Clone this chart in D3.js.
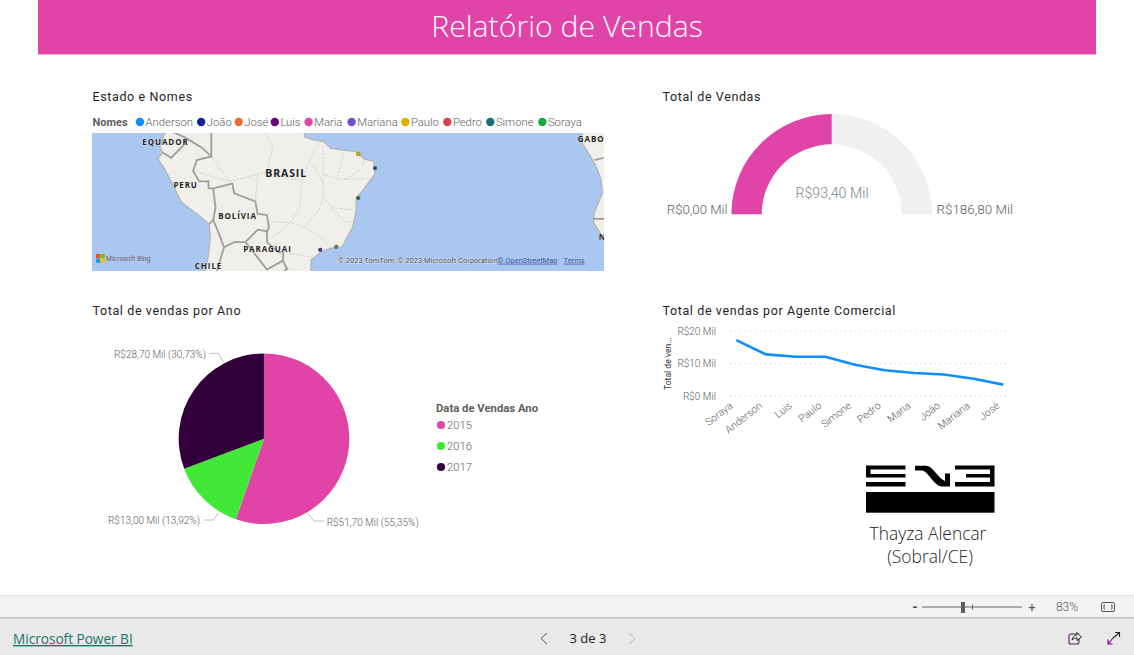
<!DOCTYPE html>
<html><head><meta charset="utf-8">
<script src="https://d3js.org/d3.v7.min.js"></script>
<style>
html,body{margin:0;padding:0;background:#fff;overflow:hidden}
svg{display:block}
text{font-family:"Roboto","Noto Sans",sans-serif}
.title{font-size:12.5px;fill:#252423;letter-spacing:.62px;font-family:"Roboto"}
.lab{fill:#605e5c}
</style></head><body>
<svg id="c" width="1134" height="655"></svg>
<script>
// ---------- data ----------
const reportTitle = "Relatório de Vendas";
const mapNames = ["Anderson","João","José","Luis","Maria","Mariana","Paulo","Pedro","Simone","Soraya"];
const mapColors = ["#118DFF","#12239E","#E66C37","#6B007B","#E044A7","#744EC2","#D9B300","#D64550","#197278","#1AAB40"];
const cityNames = ["Fortaleza","Natal","Salvador","Rio de Janeiro","São Paulo"];
const cityLons = [-38.5,-34.9,-38.5,-43.2,-46.6];
const cityLats = [-3.7,-6.7,-13,-22.9,-23.5];
const cityOuter = ["#D9B300","#197278","#1AAB40","#1AAB40","#12239E"];
const cityInner = ["#D9B300","#6B007B","#6B007B","#D64550","#744EC2"];
const southAmerica = [[-82,8],[-78.5,2],[-80,0.5],[-80.9,-2.2],[-80.3,-3.4],[-81.3,-4.7],[-79.9,-6.9],[-78.2,-10],[-76.3,-13.9],[-72,-17],[-70.4,-18.4],[-70.1,-21],[-70.6,-25],[-71.4,-29],[-71.6,-33],[-71,-36],[-55,-36],[-52,-32.2],[-50,-29.5],[-48.6,-27.5],[-48.6,-25.5],[-46.5,-24],[-44.5,-23.2],[-41.9,-22.9],[-40.9,-21],[-39.7,-19],[-39,-16],[-38.9,-13],[-37.2,-11],[-34.9,-8],[-35.2,-5.2],[-37.2,-4.8],[-39,-3.2],[-41.5,-2.9],[-44.3,-2.5],[-46,-1],[-48.2,-0.7],[-50,0],[-50,1.8],[-52,5],[-60,9],[-82,9]];
const africa = [[8.7,5],[9.5,1],[9,-0.7],[11,-4],[12.2,-6],[13.4,-9],[13.7,-12],[12,-16],[11.8,-18],[14.5,-22],[15,-27],[30,-27],[30,5]];
const countryBorders = [
 [[-80.3,-3.4],[-78.5,-4.5],[-75.5,-1.5],[-75.5,-0.2],[-78.5,1.2]],
 [[-75.5,-0.2],[-72,-2.3],[-69.9,-4.2],[-69.9,1.5]],
 [[-69.9,-4.2],[-73,-5],[-73.8,-7.3],[-72.5,-9.5],[-70.5,-9.5],[-70.5,-11],[-69.5,-11],[-65.4,-10],[-65,-12],[-60.5,-13.7],[-60,-16.3],[-58,-16.5],[-57.6,-19],[-58,-20],[-58,-22],[-55.5,-24],[-54.5,-24],[-54.6,-25.6],[-53.7,-27.2],[-57.6,-30]],
 [[-69.5,-11],[-69,-15],[-69.5,-17.5],[-70.4,-18.4]],
 [[-69.5,-17.5],[-68.4,-20],[-67.2,-23],[-68.5,-27],[-70,-31]],
 [[-67.2,-23],[-65,-22],[-62.6,-22],[-60,-19.5],[-58,-19.8]],
 [[-62.6,-22],[-58,-27.3],[-54.6,-25.6]],
 [[12,-5],[14,-4.5]],[[11.8,-17.3],[15,-17.3]]
];
const stateBorders = [
 [[-69.9,-4.2],[-66,-9.5]],[[-73.8,-7.3],[-66,-9.5],[-60,-8],[-58,-7.5],[-56.8,-2.2],[-58.5,1]],
 [[-60,-8],[-60.5,-13.7]],[[-58,-7.5],[-50.5,-9.5],[-49,-5.3],[-47,-1]],
 [[-50.5,-9.5],[-51,-15],[-53,-18],[-58,-18]],[[-46,-2],[-46,-8],[-46,-13],[-47,-15.5],[-50,-19],[-53,-18]],
 [[-49,-5.3],[-47.5,-7],[-46,-10]],[[-46,-8],[-43,-9],[-41.5,-3]],[[-41,-9],[-38,-7],[-37,-4.8]],[[-43,-9],[-38,-9],[-36,-9]],
 [[-46,-13],[-44,-15],[-39.5,-15.5]],[[-50,-19],[-47,-20.5],[-44.5,-23]],[[-44.5,-15],[-41,-18],[-40,-18]],[[-54,-24],[-48.2,-25]],[[-53.7,-27],[-49,-28.5]],[[-58,-22],[-53,-18]]
];
const mapLabelNames = ["EQUADOR","PERU","BRASIL","BOLÍVIA","PARAGUAI","CHILE","GABON","NAMÍBIA"];
const mapLabelLons = [-79.7,-75.4,-53.9,-64.3,-57.9,-70.5,12.1,17.4];
const mapLabelLats = [-1.2,-10.2,-8.0,-16.8,-23.4,-26.6,-0.5,-20.9];
const gaugeMin = 0, gaugeMax = 186.8, gaugeValue = 93.4;
const gaugeTexts = ["R$0,00 Mil","R$93,40 Mil","R$186,80 Mil"];
const pieYears = ["2015","2016","2017"];
const pieValues = [51.7,13.0,28.7];
const pieLabels = ["R$51,70 Mil (55,35%)","R$13,00 Mil (13,92%)","R$28,70 Mil (30,73%)"];
const pieColors = ["#E044A7","#41E835","#33003B"];
const agents = ["Soraya","Anderson","Luis","Paulo","Simone","Pedro","Maria","João","Mariana","José"];
const agentSales = [17.2,12.8,12.1,12.1,9.6,7.9,7.1,6.6,5.3,3.5];
const agentTicks = [0,10,20];
const agentTickLabels = ["R$0 Mil","R$10 Mil","R$20 Mil"];

// ---------- drawing ----------
const svg = d3.select("#c");
const pink = "#E044A7";
// header
svg.append("rect").attr("x",38).attr("y",0).attr("width",1058).attr("height",54).attr("fill",pink);
svg.append("rect").attr("x",38).attr("y",54).attr("width",1058).attr("height",1).attr("fill","#f0b4da");
svg.append("text").attr("x",567).attr("y",37).attr("text-anchor","middle").attr("fill","#fff")
 .style("font-family",'"Open Sans"').style("font-weight",300).style("font-size","30.2px").text(reportTitle);
function title(x,y,t){svg.append("text").attr("class","title").attr("x",x).attr("y",y).text(t);}
title(92.5,101,"Estado e Nomes");
title(662.5,101,"Total de Vendas");
title(92.5,315,"Total de vendas por Ano");
title(662.5,315,"Total de vendas por Agente Comercial");

// map legend
svg.append("text").attr("x",92.5).attr("y",126).attr("fill","#605e5c").style("font-size","11px").style("font-weight",700).text("Nomes");
const legendDotX = [139.9,201.2,238.7,274.8,308.6,351.6,405.3,447.3,490.3,542.3];
mapNames.forEach((n,i)=>{
  svg.append("circle").attr("cx",legendDotX[i]).attr("cy",122).attr("r",4.2).attr("fill",mapColors[i]);
  svg.append("text").attr("class","lab").attr("x",legendDotX[i]+5.6).attr("y",126).style("font-size","11.3px").style("font-weight",300).text(n);
});

// map
svg.append("clipPath").attr("id","mc").append("rect").attr("x",92).attr("y",133).attr("width",512).attr("height",138);
const mapG = svg.append("g").attr("clip-path","url(#mc)");
mapG.append("rect").attr("x",92).attr("y",133).attr("width",512).attr("height",138).attr("fill","#A9C7F1");
const proj = d3.geoMercator().scale(268).translate([0,0]);
const p0 = proj([-38.5,-3.7]);
proj.translate([358.2-p0[0],154-p0[1]]);
const pxLine = d3.line().x(d=>proj(d)[0]).y(d=>proj(d)[1]);
[southAmerica,africa].forEach(poly=>{
  mapG.append("path").attr("d",pxLine(poly)+"Z").attr("fill","#F0EFEB").attr("stroke","#b4b3ad").attr("stroke-width",1.2);
});
stateBorders.forEach(b=>mapG.append("path").attr("d",pxLine(b)).attr("fill","none").attr("stroke","#c9c6bd").attr("stroke-width",.8).attr("stroke-dasharray","2,1.5"));
countryBorders.forEach(b=>{
  mapG.append("path").attr("d",pxLine(b)).attr("fill","none").attr("stroke","#a09e98").attr("stroke-width",1.8);
});
mapLabelNames.forEach((l,i)=>{
  const p = proj([mapLabelLons[i],mapLabelLats[i]]);
  mapG.append("text").attr("x",p[0]).attr("y",p[1]+3).attr("text-anchor","middle").attr("fill","#222")
   .attr("stroke","#fff").attr("stroke-width",.5).attr("paint-order","stroke")
   .style("font-size",l==="BRASIL"?"10.5px":"8px").style("font-weight",700).style("letter-spacing","0.9px").style("font-family",'"Open Sans"').text(l);
});
cityNames.forEach((c,i)=>{
  const p = proj([cityLons[i],cityLats[i]]);
  mapG.append("circle").attr("cx",p[0]).attr("cy",p[1]).attr("r",1.9).attr("fill",cityOuter[i]).attr("stroke","#333").attr("stroke-width",.3);
  mapG.append("circle").attr("cx",p[0]).attr("cy",p[1]).attr("r",.9).attr("fill",cityInner[i]);
});
// Bing logo & attribution
const msCols=["#F25022","#7FBA00","#00A4EF","#FFB900"];
msCols.forEach((c,i)=>mapG.append("rect").attr("x",96+(i%2)*4.6).attr("y",254+Math.floor(i/2)*4.6).attr("width",4.2).attr("height",4.2).attr("fill",c));
mapG.append("text").attr("x",106).attr("y",261).attr("fill","#666").style("font-size","6.8px").text("Microsoft Bing");
mapG.append("text").attr("x",338).attr("y",262.7).attr("fill","#444").attr("stroke","#fff").attr("stroke-width",.5).attr("paint-order","stroke").style("font-size","7.5px").text("© 2023 TomTom, © 2023 Microsoft Corporation, ");
mapG.append("text").attr("x",497.6).attr("y",262.7).attr("fill","#3a5a9a").attr("text-decoration","underline").style("font-size","7.5px").text("© OpenStreetMap");
mapG.append("text").attr("x",563.6).attr("y",262.7).attr("fill","#3a5a9a").attr("text-decoration","underline").style("font-size","7.5px").text("Terms");

// gauge
const gx = 831.7, gy = 214.3;
const gAngle = d3.scaleLinear().domain([gaugeMin,gaugeMax]).range([-Math.PI/2,Math.PI/2]);
const gArc = d3.arc().innerRadius(70).outerRadius(100.3);
svg.append("path").attr("transform",`translate(${gx},${gy})`).attr("fill","#F1F0EF").attr("d",gArc({startAngle:gAngle(gaugeMin),endAngle:gAngle(gaugeMax)}));
svg.append("path").attr("transform",`translate(${gx},${gy})`).attr("fill",pink).attr("d",gArc({startAngle:gAngle(gaugeMin),endAngle:gAngle(gaugeValue)}));
svg.append("text").attr("class","lab").attr("x",727.5).attr("y",214).attr("text-anchor","end").style("font-size","13.2px").style("font-weight",300).text(gaugeTexts[0]);
svg.append("text").attr("x",832).attr("y",198).attr("text-anchor","middle").attr("fill","#7b8790").style("font-size","14.2px").style("font-weight",300).text(gaugeTexts[1]);
svg.append("text").attr("class","lab").attr("x",936.5).attr("y",214).style("font-size","13.4px").style("font-weight",300).text(gaugeTexts[2]);

// pie
const px=264, py=438.7, pr=85.3;
const pie = d3.pie().sort(null).value(d=>d);
const pArc = d3.arc().innerRadius(0).outerRadius(pr);
const slices = pie(pieValues);
const pieG = svg.append("g").attr("transform",`translate(${px},${py})`);
pieG.selectAll("path").data(slices).join("path").attr("d",pArc).attr("fill",(d,i)=>pieColors[i]);
const lblX = [326.7,200,206];
const lblY = [526,524,358];
const anchor = ["start","end","end"];
const leaders = [[[308.3,514],[314,521],[324,521]],[[218.3,513.3],[213.3,520],[203.3,520]],[[223.3,361.7],[218.3,353.3],[209.3,353.3]]];
slices.forEach((s,i)=>{
  svg.append("path").attr("fill","none").attr("stroke","#bdbdbd").attr("stroke-width",1).attr("d",d3.line()(leaders[i]));
  svg.append("text").attr("class","lab").attr("x",lblX[i]).attr("y",lblY[i]).attr("text-anchor",anchor[i]).style("font-size","10px").style("font-weight",300).text(pieLabels[i]);
});
svg.append("text").attr("x",436).attr("y",412).attr("fill","#605e5c").style("font-size","11.3px").style("font-weight",700).text("Data de Vendas Ano");
pieYears.forEach((y,i)=>{
  const cy = 425+i*21;
  svg.append("circle").attr("cx",441).attr("cy",cy).attr("r",4.1).attr("fill",pieColors[i]);
  svg.append("text").attr("class","lab").attr("x",447).attr("y",cy+4).style("font-size","11.3px").style("font-weight",300).text(y);
});

// line chart
const xS = d3.scalePoint().domain(agents).range([736.3,1003.3]);
const yS = d3.scaleLinear().domain([0,20]).range([396,331]);
const yAxis = d3.axisLeft(yS).tickValues(agentTicks).tickSize(0).tickPadding(9).tickFormat((d,i)=>agentTickLabels[i]);
const yg = svg.append("g").attr("transform","translate(725,0)").call(yAxis);
yg.select(".domain").remove();
yg.selectAll("text").attr("fill","#605e5c").style("font-size","10px").style("font-weight",300);
agentTicks.forEach(t=>svg.append("line").attr("x1",725).attr("x2",1014).attr("y1",yS(t)).attr("y2",yS(t)).attr("stroke","#cfcfcf").attr("stroke-width",1).attr("stroke-dasharray","1,4"));
svg.append("text").attr("transform","translate(670.5,390) rotate(-90)").attr("fill","#333").style("font-size","8.6px").text("Total de ven...");
const xAxis = d3.axisBottom(xS).tickSize(0);
const xg = svg.append("g").attr("transform","translate(0,396)").call(xAxis);
xg.select(".domain").remove();
xg.selectAll("text").attr("fill","#605e5c").style("font-size","10.4px").style("font-weight",300)
  .attr("text-anchor","end").attr("dy",0).attr("x",0).attr("y",0).attr("transform","translate(-3.5,11) rotate(-38)");
svg.append("path").attr("fill","none").attr("stroke","#118DFF").attr("stroke-width",2.6).attr("stroke-linejoin","round")
 .attr("d",d3.line().x((d,i)=>xS(agents[i])).y(d=>yS(d))(agentSales));

// logo
const logo = svg.append("g").attr("fill","#000");
logo.append("path").attr("d","M866 465.5H905.5V469.5H870.5V474H905.5V477.5H866ZM866 482H905.5V486.5H866Z");
logo.append("path").attr("d","M915 465.7H926C933 466 938 478 945 481V473.5H950V486.5H942C934 486 928 471 922 470.5H915Z");
logo.append("path").attr("d","M955 465.5H994.5V486.5H955V482H990V477.5H966V474H990V469.5H955Z");
logo.append("rect").attr("x",866).attr("y",492).attr("width",128.5).attr("height",20.7);
svg.append("text").attr("x",928).attr("y",540).attr("text-anchor","middle").attr("fill","#252423").style("font-size","17.4px").style("font-family",'"Open Sans"').style("font-weight",300).text("Thayza Alencar");
svg.append("text").attr("x",930).attr("y",563).attr("text-anchor","middle").attr("fill","#252423").style("font-size","17.4px").style("font-family",'"Open Sans"').style("font-weight",300).text("(Sobral/CE)");

// footer bars
svg.append("rect").attr("x",0).attr("y",595).attr("width",1134).attr("height",23).attr("fill","#F3F3F3");
svg.append("rect").attr("x",0).attr("y",595).attr("width",1134).attr("height",1).attr("fill","#E1E1E1");
svg.append("rect").attr("x",0).attr("y",618).attr("width",1134).attr("height",37).attr("fill","#E9E9E9");
svg.append("rect").attr("x",0).attr("y",617).attr("width",1134).attr("height",1.5).attr("fill","#C8C8C8");
svg.append("text").attr("x",13).attr("y",644).attr("fill","#117865").attr("text-decoration","underline").style("font-size","13.6px").style("font-family",'"Open Sans"').text("Microsoft Power BI");
const chev=(x,c,dir)=>svg.append("path").attr("fill","none").attr("stroke",c).attr("stroke-width",1).attr("d",d3.line()([[x+dir*3,633],[x-dir*3,638.5],[x+dir*3,644]]));
chev(544,"#555",1); chev(632,"#bbb",-1);
svg.append("text").attr("x",588).attr("y",643).attr("text-anchor","middle").attr("fill","#222").style("font-size","13px").style("font-family",'"Open Sans"').style("font-weight",500).text("3 de 3");
// zoom control
svg.append("text").attr("x",915).attr("y",612).attr("text-anchor","middle").attr("fill","#555").style("font-size","14px").style("font-weight",700).text("-");
svg.append("line").attr("x1",922).attr("x2",1022).attr("y1",607).attr("y2",607).attr("stroke","#666");
svg.append("line").attr("x1",972.5).attr("x2",972.5).attr("y1",604.5).attr("y2",609.5).attr("stroke","#666");
svg.append("rect").attr("x",961).attr("y",602).attr("width",4).attr("height",11).attr("fill","#605e5c");
svg.append("text").attr("x",1032).attr("y",611.5).attr("text-anchor","middle").attr("fill","#555").style("font-size","13px").text("+");
svg.append("text").attr("x",1067).attr("y",611).attr("text-anchor","middle").attr("fill","#605e5c").style("font-size","12px").style("font-weight",300).text("83%");
svg.append("rect").attr("x",1101.5).attr("y",602.5).attr("width",13).attr("height",9).attr("rx",1.5).attr("fill","none").attr("stroke","#555");
svg.append("path").attr("fill","none").attr("stroke","#555").attr("d","M1105 605H1104V609H1105M1111 605H1112V609H1111");
// share / expand icons
svg.append("rect").attr("x",1069).attr("y",634).attr("width",10).attr("height",10).attr("rx",2).attr("fill","none").attr("stroke","#5a1a5a").attr("stroke-width",1.1);
svg.append("path").attr("fill","#E9E9E9").attr("stroke","#222").attr("d","M1072 640C1073 636 1075 635 1077 635V632.5L1081.5 637L1077 640.5V638C1075 638 1073.5 638.5 1072 640Z");
svg.append("path").attr("fill","none").attr("stroke","#222").attr("stroke-width",1.1).attr("d","M1113 638L1119 633M1115 632.5H1119.5V637");
svg.append("path").attr("fill","none").attr("stroke","#6B007B").attr("stroke-width",1.1).attr("d","M1113 638L1108 644M1108 639.5V644H1112.5");
</script>
</body></html>
